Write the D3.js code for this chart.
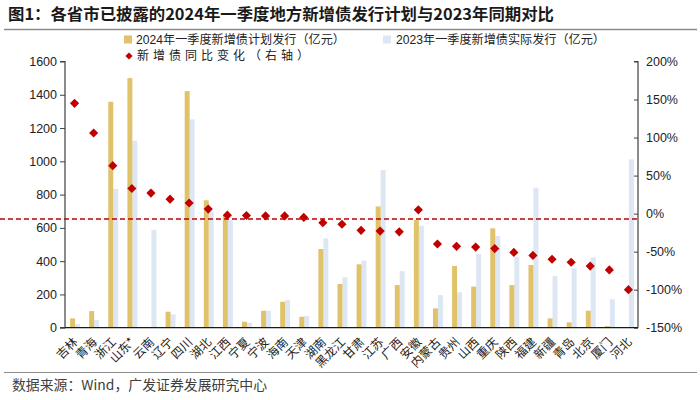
<!DOCTYPE html>
<html><head><meta charset="utf-8">
<script src="https://cdn.jsdelivr.net/npm/d3@7"></script>
<style>
body{margin:0;background:#fff;}
svg{display:block;}
text{font-family:"Liberation Sans",Arial,"Noto Sans CJK SC",sans-serif;}
.cjk{font-family:"Noto Sans CJK SC","Liberation Sans",sans-serif;}
</style></head>
<body>
<svg id="c" width="700" height="400"></svg>
<script>
const categories = ["吉林","青海","浙江","山东*","云南","辽宁","四川","湖北","江西","宁夏","宁波","海南","天津","湖南","黑龙江","甘肃","江苏","广西","安徽","内蒙古","贵州","山西","重庆","陕西","福建","新疆","青岛","北京","厦门","河北"];
const plan2024 = [56,100,1358,1500,0,96,1422,766,670,36,102,156,66,473,263,381,729,256,647,116,371,247,597,256,377,56,32,102,10,0];
const actual2023 = [22,46,834,1124,588,80,1252,700,647,30,102,166,70,537,303,403,948,340,613,196,213,443,551,427,841,310,357,422,171,1012];
const yoyChange = [145,106,63,33,27,19,14,6,-2,-2.5,-3,-3,-5,-12,-14,-22,-23,-24,5,-40,-43,-44,-46,-51,-55,-60,-64,-69,-74,-100];
const leftTicks = [0,200,400,600,800,1000,1200,1400,1600];
const rightTicks = [-150,-100,-50,0,50,100,150,200];
const dashedRef = -7;
const titleText = "图1：各省市已披露的2024年一季度地方新增债发行计划与2023年同期对比";
const legendNames = ["2024年一季度新增债计划发行（亿元）","2023年一季度新增债实际发行（亿元）","新增债同比变化（右轴）"];
const sourceText = "数据来源：Wind，广发证券发展研究中心";

const GOLD = "#E0C26A", BLUE = "#DCE7F3", RED = "#C00000";
const svg = d3.select("#c");
const L = 65, R = 638, T = 61.5, B = 327.7;

const x = d3.scaleBand().domain(categories).range([L, R]).padding(0);
const yL = d3.scaleLinear().domain([0,1600]).range([B, T]);
const yR = d3.scaleLinear().domain([-150,200]).range([B, T]);

// Title
svg.append("text").attr("class","cjk").attr("x",8).attr("y",20)
  .attr("font-size",16).attr("font-weight","bold").attr("fill","#1a1a1a")
  .attr("textLength",546).attr("lengthAdjust","spacingAndGlyphs").text(titleText);
svg.append("line").attr("x1",4).attr("x2",697).attr("y1",29.5).attr("y2",29.5)
  .attr("stroke","#8c8c8c").attr("stroke-width",1.3);

// Bars
const bw = x.bandwidth()*0.26;
const data = categories.map((c,i)=>({c, p:plan2024[i], a:actual2023[i], y:yoyChange[i]}));
const cx = d => x(d.c) + x.bandwidth()/2 + 0.5;
svg.append("g").selectAll("rect").data(data).join("rect")
  .attr("x", d=>cx(d)) .attr("width", bw)
  .attr("y", d=>yL(d.a)).attr("height", d=>B - yL(d.a)).attr("fill", BLUE);
svg.append("g").selectAll("rect").data(data).join("rect")
  .attr("x", d=>cx(d)-bw) .attr("width", bw)
  .attr("y", d=>yL(d.p)).attr("height", d=>B - yL(d.p)).attr("fill", GOLD);

// dashed reference
svg.append("line").attr("x1",0).attr("x2",R).attr("y1",yR(dashedRef)).attr("y2",yR(dashedRef))
  .attr("stroke",RED).attr("stroke-width",1.4).attr("stroke-dasharray","5,3");

// Diamonds
svg.append("g").selectAll("path").data(data).join("path")
  .attr("d", d3.symbol().type(d3.symbolSquare).size(42))
  .attr("transform", d=>`translate(${x(d.c)+x.bandwidth()/2},${yR(d.y)}) rotate(45)`)
  .attr("fill", RED);

// Axes
const axL = svg.append("g").attr("transform",`translate(${L},0)`)
  .call(d3.axisLeft(yL).tickValues(leftTicks).tickSize(5).tickPadding(3).tickFormat(d3.format("d")));
const axR = svg.append("g").attr("transform",`translate(${R},0)`)
  .call(d3.axisRight(yR).tickValues(rightTicks).tickSize(-4).tickPadding(8).tickFormat(d=>d+"%"));
[axL,axR].forEach(a=>{
  a.select(".domain").attr("stroke","#404040").attr("stroke-width",1.2);
  a.selectAll(".tick line").attr("stroke","#404040");
  a.selectAll(".tick text").attr("font-size",12.5).attr("fill","#222")
   .attr("font-family","Liberation Sans, Arial, sans-serif");
});
axL.select(".domain").attr("d",`M-5,${T}H0V${B}H-5`);
axR.select(".domain").attr("d",`M-4,${T}H0V${B}`);
// x axis line
svg.append("line").attr("x1",L).attr("x2",R).attr("y1",B).attr("y2",B)
  .attr("stroke","#1a1a1a").attr("stroke-width",1.3);

// X labels
svg.append("g").selectAll("text").data(categories).join("text")
  .attr("class","cjk").attr("font-size",12).attr("fill","#222")
  .attr("text-anchor","end")
  .attr("transform", d=>`translate(${x(d)+x.bandwidth()/2+1},${B+12}) rotate(-45)`)
  .attr("dy","0.35em").text(d=>d);

// Legend
const lg = svg.append("g").attr("class","cjk").attr("font-size",12).attr("fill","#222");
lg.append("rect").attr("x",124).attr("y",35.5).attr("width",8).attr("height",8).attr("fill",GOLD);
lg.append("text").attr("x",136).attr("y",44).attr("textLength",209).attr("lengthAdjust","spacingAndGlyphs").text(legendNames[0]);
lg.append("rect").attr("x",383).attr("y",35.5).attr("width",8).attr("height",8).attr("fill",BLUE);
lg.append("text").attr("x",396).attr("y",44).attr("textLength",209).attr("lengthAdjust","spacingAndGlyphs").text(legendNames[1]);
lg.append("path").attr("d", d3.symbol().type(d3.symbolSquare).size(26))
  .attr("transform","translate(129,56) rotate(45)").attr("fill",RED);
lg.append("text").attr("x",137).attr("y",60).attr("textLength",172).attr("lengthAdjust","spacing").text(legendNames[2]);

// Bottom
svg.append("line").attr("x1",4).attr("x2",697).attr("y1",372.5).attr("y2",372.5)
  .attr("stroke","#8c8c8c").attr("stroke-width",1.2);
svg.append("text").attr("class","cjk").attr("x",12).attr("y",390).attr("font-size",13.5)
  .attr("fill","#404040").attr("textLength",255).attr("lengthAdjust","spacingAndGlyphs").text(sourceText);
</script>
</body></html>
